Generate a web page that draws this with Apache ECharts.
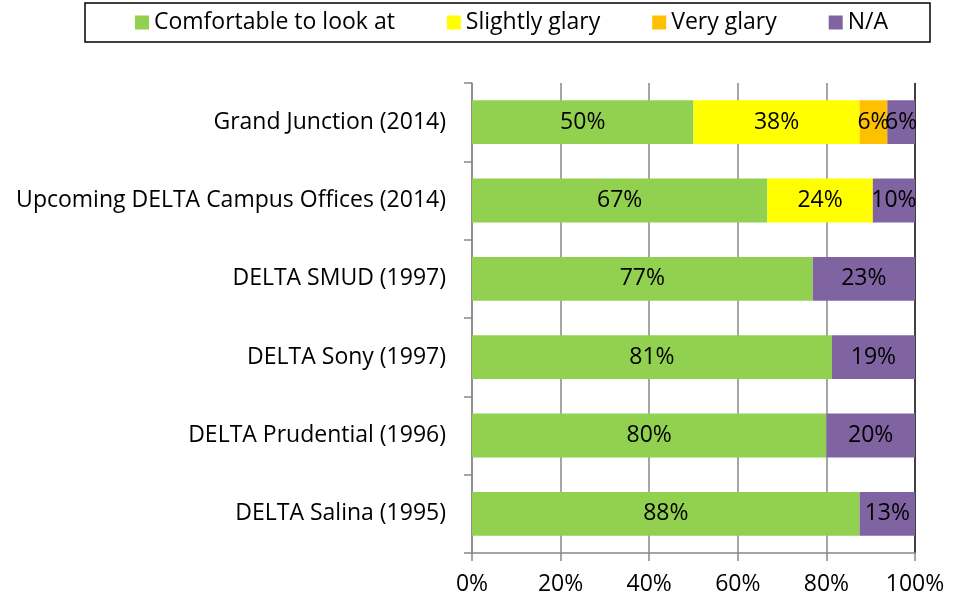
<!DOCTYPE html>
<html>
<head>
<meta charset="utf-8">
<script src="https://cdn.jsdelivr.net/npm/echarts@6/dist/echarts.min.js"></script>
<style>
  html, body { margin: 0; padding: 0; background: #fff; }
  #chart { width: 956px; height: 601px; }
</style>
</head>
<body>
<div id="chart"></div>
<script>
// top to bottom
const categories = [
  'Grand Junction (2014)',
  'Upcoming DELTA Campus Offices (2014)',
  'DELTA SMUD (1997)',
  'DELTA Sony (1997)',
  'DELTA Prudential (1996)',
  'DELTA Salina (1995)'
]
const comfortable = [50, 66.67, 76.92, 81.25, 80, 87.5]
const slightlyGlary = [37.5, 23.81, 0, 0, 0, 0]
const veryGlary = [6.25, 0, 0, 0, 0, 0]
const na = [6.25, 9.52, 23.08, 18.75, 20, 12.5]
const xTicks = [0, 20, 40, 60, 80, 100]

const font = 'Open Sans'
const fs = 23
const chart = echarts.init(document.getElementById('chart'))

function makeSeries(name, data, color) {
  return {
    name: name,
    type: 'bar',
    stack: 'total',
    barWidth: '56%',
    data: data,
    itemStyle: { color: color },
    label: {
      show: true,
      position: 'inside',
      color: '#000',
      fontFamily: font,
      fontSize: fs,
      formatter: p => (p.value > 0 ? Math.round(p.value) + '%' : '')
    }
  }
}

chart.setOption({
  animation: false,
  textStyle: { fontFamily: font },
  legend: {
    top: 3,
    left: 85,
    borderColor: '#000',
    borderWidth: 1.5,
    padding: [8, 42, 8, 50],
    itemGap: 52,
    itemWidth: 14,
    itemHeight: 14,
    icon: 'rect',
    textStyle: { fontFamily: font, fontSize: fs, color: '#000' }
  },
  grid: { left: 472, right: 41, top: 83, bottom: 48, containLabel: false },
  xAxis: {
    type: 'value',
    min: xTicks[0],
    max: xTicks[xTicks.length - 1],
    interval: 20,
    axisLine: { show: true, lineStyle: { color: '#888', width: 1.5 } },
    axisTick: { show: true, length: 8, lineStyle: { color: '#888', width: 1.5 } },
    axisLabel: { formatter: '{value}%', fontFamily: font, fontSize: fs, color: '#000', margin: 20 },
    splitLine: {
      show: true,
      lineStyle: { color: ['#888', '#888', '#888', '#888', '#888', '#000'], width: 1.5 }
    }
  },
  yAxis: {
    type: 'category',
    inverse: true,
    data: categories,
    axisLine: { show: true, lineStyle: { color: '#888', width: 1.5 } },
    axisTick: { show: true, length: 8, lineStyle: { color: '#888', width: 1.5 } },
    axisLabel: { fontFamily: font, fontSize: fs, color: '#000', margin: 26 }
  },
  series: [
    makeSeries('Comfortable to look at', comfortable, '#92D050'),
    makeSeries('Slightly glary', slightlyGlary, '#FFFF00'),
    makeSeries('Very glary', veryGlary, '#FFC000'),
    makeSeries('N/A', na, '#8064A2')
  ]
})
</script>
</body>
</html>
